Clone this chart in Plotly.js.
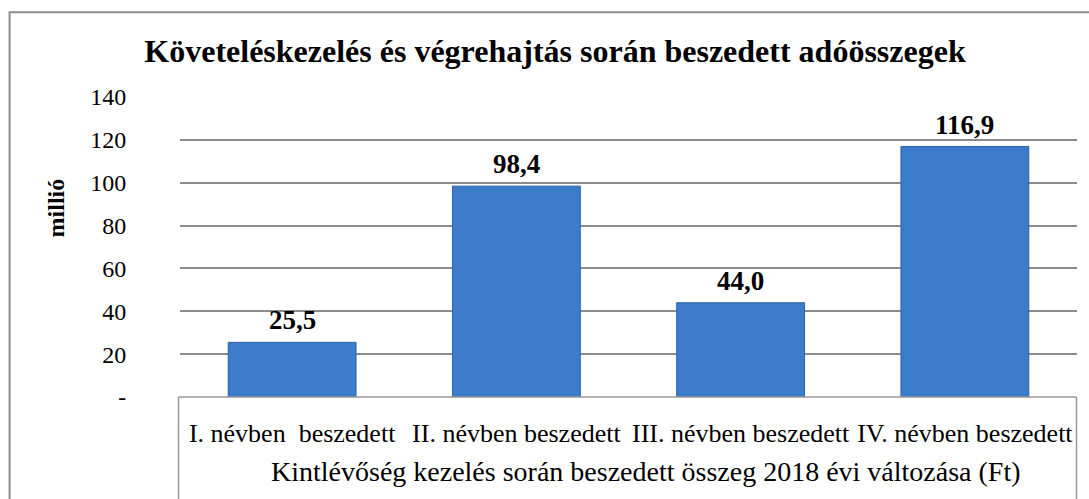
<!DOCTYPE html>
<html>
<head>
<meta charset="utf-8">
<script src="https://cdn.plot.ly/plotly-3.0.1.min.js"></script>
<style>html,body{margin:0;padding:0;background:#fff;}#chart{width:1089px;height:499px;}</style>
</head>
<body>
<div id="chart"></div>
<script>
const categories = ["I. névben\u00a0 beszedett", "II. névben beszedett", "III. névben beszedett", "IV. névben beszedett"];
const values = [25.5, 98.4, 44.0, 116.9];
const valueLabels = ["25,5", "98,4", "44,0", "116,9"];
const yTickVals = [0, 20, 40, 60, 80, 100, 120, 140];
const yTickText = ["-", "20", "40", "60", "80", "100", "120", "140"];
const titleText = "Követeléskezelés és végrehajtás során beszedett adóösszegek";
const xTitle = "Kintlévőség kezelés során beszedett összeg 2018 évi változása (Ft)";
const yTitle = "millió";

const FONT = "'Liberation Serif', 'Times New Roman', serif";

// pixel -> paper helpers for the decorative frame
const L = 179.5, R = 1077, T = 97, B = 397.5;
const px = v => (v - L) / (R - L);
const py = v => (B - v) / (B - T);

const trace = {
  type: "bar",
  x: categories,
  y: values,
  marker: {color: "#3D7CCA", line: {color: "#2F62A6", width: 1}},
  hoverinfo: "x+y"
};

const annotations = categories.map((c, i) => ({
  x: c, y: values[i], xref: "x", yref: "y",
  text: "<b>" + valueLabels[i] + "</b>", showarrow: false,
  yanchor: "middle", yshift: 22,
  font: {family: FONT, size: 27, color: "#000"}
}));
annotations.push({
  xref: "paper", yref: "paper", x: px(646), y: py(472),
  xanchor: "center", yanchor: "middle", showarrow: false,
  text: xTitle, font: {family: FONT, size: 28, color: "#000"}
});
annotations.push({
  xref: "paper", yref: "paper", x: px(55), y: py(208),
  xanchor: "center", yanchor: "middle", showarrow: false, textangle: -90,
  text: "<b>" + yTitle + "</b>", font: {family: FONT, size: 24, color: "#000"}
});

const gray = "#8c8c8c";
const shapes = [
  {type: "rect", xref: "paper", yref: "paper", x0: px(9), x1: px(1100), y0: py(510), y1: py(12),
   line: {color: gray, width: 2}, fillcolor: "rgba(0,0,0,0)", layer: "below"},
  {type: "line", xref: "paper", yref: "paper", x0: px(178), x1: px(1076.5), y0: 0, y1: 0, line: {color: "#999", width: 1.5}},
  {type: "line", xref: "paper", yref: "paper", x0: px(178), x1: px(178), y0: 0, y1: py(505), line: {color: "#999", width: 1.5}},
  {type: "line", xref: "paper", yref: "paper", x0: px(1076.5), x1: px(1076.5), y0: 0, y1: py(505), line: {color: "#999", width: 1.5}}
];

const layout = {
  width: 1089, height: 499,
  margin: {l: L, r: 1089 - R, t: T, b: 499 - B, pad: 0},
  paper_bgcolor: "#fff", plot_bgcolor: "#fff",
  showlegend: false,
  bargap: 0.43,
  font: {family: FONT, size: 22, color: "#000"},
  title: {
    text: "<b>" + titleText + "</b>",
    xref: "container", yref: "container", x: 555 / 1089, y: 1 - 51 / 499,
    xanchor: "center", yanchor: "middle",
    font: {family: FONT, size: 32, color: "#000"}
  },
  xaxis: {
    type: "category",
    range: [-0.5, 3.5],
    showgrid: false, zeroline: false, showline: false,
    ticks: "outside", ticklen: 13, tickcolor: "rgba(0,0,0,0)",
    tickfont: {family: FONT, size: 26, color: "#000"},
    automargin: false, fixedrange: true
  },
  yaxis: {
    range: [0, 140],
    tickvals: yTickVals, ticktext: yTickText,
    showgrid: true, gridcolor: "#8c8c8c", gridwidth: 2,
    zeroline: false, showline: false,
    ticks: "outside", ticklen: 48, tickcolor: "rgba(0,0,0,0)",
    tickfont: {family: FONT, size: 24, color: "#000"},
    automargin: false, fixedrange: true
  },
  annotations: annotations,
  shapes: shapes
};

Plotly.newPlot("chart", [trace], layout, {displayModeBar: false, staticPlot: true});
</script>
</body>
</html>
